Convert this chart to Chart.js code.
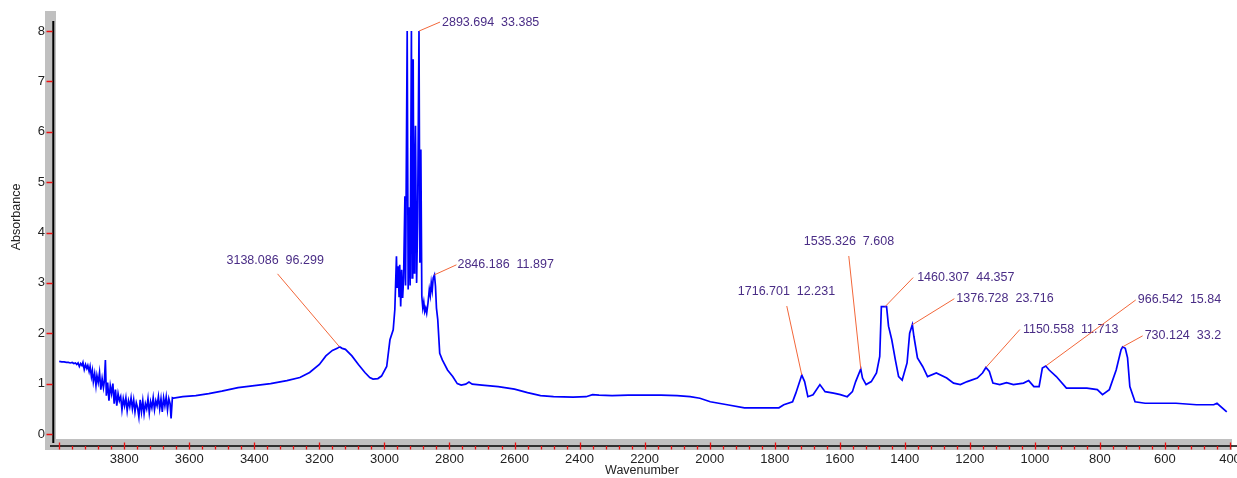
<!DOCTYPE html>
<html>
<head>
<meta charset="utf-8">
<title>IR spectrum</title>
<script src="https://cdn.jsdelivr.net/npm/chart.js@4.4.1/dist/chart.umd.min.js"></script>
<style>
  html, body { margin: 0; padding: 0; background: #ffffff; }
  #wrap { width: 1237px; height: 478px; }
</style>
</head>
<body>
<div id="wrap"><canvas id="spectrum" width="1237" height="478"></canvas></div>
<script>
// Spectrum samples (cm-1, absorbance), high to low wavenumber
const wavenumbers = [
  4000, 3992, 3985, 3978, 3972, 3966, 3960, 3955, 3950, 3946, 3942, 3938, 3934, 3930, 3927, 3923,
  3919, 3915, 3912, 3908, 3905, 3901, 3898, 3895, 3891, 3887, 3884, 3880, 3876, 3872, 3868, 3864,
  3861, 3858, 3855, 3851, 3847, 3843, 3839, 3835, 3831, 3827, 3823, 3819, 3815, 3811, 3807, 3803,
  3799, 3795, 3791, 3787, 3783, 3779, 3775, 3771, 3767, 3763, 3759, 3755, 3751, 3747, 3743, 3739,
  3735, 3731, 3727, 3723, 3719, 3715, 3711, 3707, 3703, 3699, 3695, 3691, 3687, 3683, 3679, 3675,
  3671, 3667, 3663, 3659, 3656, 3652, 3648, 3620, 3580, 3540, 3500, 3450, 3400, 3350,
  3300, 3260, 3230, 3200, 3180, 3160, 3145, 3138.086, 3130, 3120, 3100, 3080, 3060, 3045, 3035, 3020,
  3009, 2993, 2983, 2973, 2968, 2963, 2961, 2958, 2955, 2953, 2950, 2947, 2944, 2941, 2937, 2935,
  2930, 2927, 2924, 2921, 2917, 2915, 2913, 2911.6, 2909, 2907, 2904.5, 2901, 2898, 2893.694, 2891, 2888,
  2885, 2882, 2879, 2876, 2873, 2870, 2866, 2862, 2859, 2856, 2853, 2850, 2846.186, 2843, 2840, 2836,
  2830, 2822, 2806, 2790, 2776, 2764, 2750, 2740, 2730, 2700, 2650, 2600, 2560, 2520, 2480, 2420,
  2380, 2360, 2340, 2300, 2250, 2200, 2150, 2100, 2060, 2030, 1998, 1946, 1893, 1840, 1787, 1772,
  1745, 1735, 1716.701, 1708, 1698, 1682, 1661, 1645, 1619, 1598, 1577, 1561, 1551, 1535.326, 1530, 1519,
  1503, 1487, 1477, 1472, 1460.307, 1456, 1450, 1440, 1429, 1419, 1408, 1393, 1385, 1376.728, 1372, 1361,
  1345, 1330, 1303, 1271, 1250, 1229, 1208, 1177, 1161, 1150.558, 1140, 1129, 1108, 1087, 1066, 1035,
  1019, 1003, 987, 977, 966.542, 956, 934, 903, 871, 840, 808, 792, 771, 750, 735, 730.124,
  722, 715, 708, 692, 661, 608, 566, 503, 450, 440, 410
];
const absorbance = [
  1.44, 1.43, 1.43, 1.42, 1.42, 1.41, 1.42, 1.40, 1.41, 1.38, 1.41, 1.34, 1.40, 1.36, 1.42, 1.28,
  1.38, 1.30, 1.36, 1.24, 1.34, 1.14, 1.26, 1.04, 1.20, 0.96, 1.16, 1.02, 1.22, 0.88, 1.10, 0.92,
  1.06, 1.47, 0.76, 1.02, 0.66, 0.96, 0.80, 1.00, 0.60, 0.88, 0.56, 0.80, 0.66, 0.74, 0.48, 0.70,
  0.56, 0.72, 0.46, 0.66, 0.54, 0.72, 0.50, 0.68, 0.44, 0.62, 0.52, 0.34, 0.68, 0.44, 0.66, 0.40,
  0.60, 0.50, 0.70, 0.42, 0.64, 0.52, 0.72, 0.48, 0.66, 0.56, 0.74, 0.50, 0.70, 0.44, 0.72, 0.56,
  0.74, 0.48, 0.70, 0.60, 0.31, 0.72, 0.71, 0.74, 0.76, 0.80, 0.85, 0.92, 0.96, 1.00,
  1.06, 1.12, 1.22, 1.38, 1.55, 1.66, 1.70, 1.73, 1.70, 1.68, 1.55, 1.38, 1.22, 1.12, 1.09, 1.10,
  1.15, 1.34, 1.87, 2.07, 2.47, 3.53, 2.90, 3.33, 2.73, 3.36, 2.53, 3.26, 2.70, 3.10, 4.72, 2.95,
  8.00, 2.87, 4.50, 2.95, 8.00, 3.10, 6.50, 7.44, 3.20, 5.00, 6.12, 3.00, 4.20, 8.00, 3.40, 5.65,
  2.73, 2.50, 2.62, 2.43, 2.50, 2.40, 2.60, 2.87, 2.75, 3.00, 2.85, 3.10, 3.16, 2.93, 2.50, 2.27,
  1.60, 1.47, 1.27, 1.14, 1.00, 0.97, 0.99, 1.03, 0.99, 0.97, 0.94, 0.89, 0.82, 0.76, 0.74, 0.73,
  0.74, 0.78, 0.77, 0.76, 0.77, 0.77, 0.77, 0.76, 0.74, 0.71, 0.64, 0.58, 0.52, 0.52, 0.52, 0.58,
  0.64, 0.81, 1.17, 1.04, 0.74, 0.78, 0.98, 0.84, 0.81, 0.78, 0.74, 0.84, 1.04, 1.29, 1.11, 0.98,
  1.04, 1.21, 1.54, 2.53, 2.53, 2.53, 2.14, 1.87, 1.47, 1.14, 1.07, 1.41, 2.00, 2.17, 1.94, 1.51,
  1.34, 1.14, 1.21, 1.11, 1.01, 0.98, 1.04, 1.11, 1.21, 1.32, 1.24, 1.01, 0.98, 1.02, 0.98, 1.01,
  1.06, 0.94, 0.94, 1.31, 1.35, 1.27, 1.14, 0.91, 0.91, 0.91, 0.88, 0.78, 0.88, 1.27, 1.67, 1.73,
  1.70, 1.51, 0.94, 0.64, 0.61, 0.61, 0.61, 0.58, 0.58, 0.61, 0.44
];

// Picked peaks: position and the second figure printed beside it
const peakWavenumbers = [3138.086, 2893.694, 2846.186, 1716.701, 1535.326, 1460.307, 1376.728, 1150.558, 966.542, 730.124];
const peakFigures = ['96.299', '33.385', '11.897', '12.231', '7.608', '44.357', '23.716', '11.713', '15.84', '33.2'];

// Axis settings
const xMin = 400, xMax = 4016, xStep = 40, xLabelStep = 200, xLabelLast = 3800;
const yMin = -0.1, yMax = 8.2, yStep = 1;

// Where each peak label sits, relative to its peak (pixels): text anchor and leader start
const labelPlacement = [
  { tx: -113, ty: -86, lx: -62, ly: -73 },
  { tx: 23, ty: -9, lx: 21, ly: -9 },
  { tx: 23, ty: -10, lx: 22, ly: -10 },
  { tx: -64, ty: -83, lx: -15, ly: -69 },
  { tx: -57, ty: -127, lx: -12, ly: -113 },
  { tx: 32, ty: -29, lx: 28, ly: -29 },
  { tx: 44, ty: -26, lx: 42, ly: -26 },
  { tx: 37, ty: -38, lx: 34, ly: -38 },
  { tx: 92, ty: -66, lx: 90, ly: -66 },
  { tx: 22, ty: -11, lx: 20, ly: -11 }
];

const FONT = '"Liberation Sans", Arial, sans-serif';
const points = wavenumbers.map((w, i) => ({ x: w, y: absorbance[i] }));

const frameAndAnnotations = {
  id: 'frameAndAnnotations',
  beforeDraw(chart) {
    const { ctx, chartArea: a } = chart;
    ctx.save();
    ctx.fillStyle = '#c0c0c0';
    // grey margin down the left and along the bottom of the plot
    ctx.fillRect(a.left - 9, a.top - 10, 11, a.bottom - a.top + 21);
    ctx.fillRect(a.left - 9, a.bottom, a.right - a.left + 11, 11);
    ctx.restore();
  },
  afterDatasetsDraw(chart) {
    const { ctx, chartArea: a, scales: { x, y } } = chart;
    ctx.save();
    // axis lines
    ctx.strokeStyle = '#000000';
    ctx.lineWidth = 2;
    ctx.beginPath();
    ctx.moveTo(a.left - 0.7, a.top);
    ctx.lineTo(a.left - 0.7, a.bottom + 4);
    ctx.stroke();
    ctx.lineWidth = 1.5;
    ctx.beginPath();
    ctx.moveTo(a.left - 4, a.bottom + 7);
    ctx.lineTo(chart.width, a.bottom + 7);
    ctx.stroke();

    // red tick marks
    ctx.strokeStyle = '#ee1111';
    ctx.lineWidth = 1.3;
    ctx.beginPath();
    y.ticks.forEach(t => {
      const py = Math.round(y.getPixelForValue(t.value)) + 0.5;
      ctx.moveTo(a.left - 7.5, py);
      ctx.lineTo(a.left - 1.5, py);
    });
    x.ticks.forEach(t => {
      const px = Math.round(x.getPixelForValue(t.value)) + 0.5;
      const major = t.value % xLabelStep === 0;
      ctx.moveTo(px, a.bottom + (major ? 3.5 : 7));
      ctx.lineTo(px, a.bottom + 10.5);
    });
    ctx.stroke();

    // y axis title
    ctx.fillStyle = '#222222';
    ctx.font = '12.5px ' + FONT;
    ctx.textAlign = 'center';
    ctx.textBaseline = 'middle';
    ctx.translate(17, 217);
    ctx.rotate(-Math.PI / 2);
    ctx.fillText('Absorbance', 0, 0);
    ctx.setTransform(1, 0, 0, 1, 0, 0);

    // peak labels with leader lines
    ctx.font = '12.5px ' + FONT;
    ctx.textAlign = 'left';
    ctx.textBaseline = 'middle';
    peakWavenumbers.forEach((w, i) => {
      const idx = wavenumbers.indexOf(w);
      const px = x.getPixelForValue(w);
      const py = y.getPixelForValue(absorbance[idx]);
      const p = labelPlacement[i];
      ctx.strokeStyle = '#f2673a';
      ctx.lineWidth = 1;
      ctx.beginPath();
      ctx.moveTo(px + p.lx, py + p.ly);
      ctx.lineTo(px, py);
      ctx.stroke();
      ctx.fillStyle = '#4a2d86';
      ctx.fillText(w.toFixed(3) + '  ' + peakFigures[i], px + p.tx, py + p.ty);
    });
    ctx.restore();
  }
};

new Chart(document.getElementById('spectrum'), {
  type: 'line',
  data: {
    datasets: [{
      data: points,
      borderColor: '#0000ff',
      borderWidth: 1.7,
      pointRadius: 0,
      tension: 0,
      fill: false
    }]
  },
  options: {
    responsive: false,
    animation: false,
    devicePixelRatio: 1,
    layout: { padding: { top: 21, right: 7, left: 0, bottom: 0 } },
    plugins: { legend: { display: false }, tooltip: { enabled: false } },
    scales: {
      x: {
        type: 'linear',
        reverse: true,
        min: xMin,
        max: xMax,
        grid: { display: false, drawTicks: false },
        border: { display: false },
        ticks: {
          stepSize: xStep,
          includeBounds: false,
          autoSkip: false,
          maxRotation: 0,
          padding: 13,
          color: '#222222',
          font: { family: FONT, size: 13 },
          callback: v => (v % xLabelStep === 0 && v <= xLabelLast) ? String(v) : ''
        },
        title: {
          display: true,
          text: 'Wavenumber',
          color: '#222222',
          font: { family: FONT, size: 12.5 },
          padding: { top: 0, bottom: 0 }
        },
        afterFit(scale) { scale.height = 39; scale.paddingLeft = 0; scale.paddingRight = 0; }
      },
      y: {
        min: yMin,
        max: yMax,
        grid: { display: false, drawTicks: false },
        border: { display: false },
        ticks: {
          stepSize: yStep,
          includeBounds: false,
          padding: 9,
          color: '#222222',
          font: { family: FONT, size: 13 }
        },
        afterFit(scale) { scale.width = 54; }
      }
    }
  },
  plugins: [frameAndAnnotations]
});
</script>
</body>
</html>
